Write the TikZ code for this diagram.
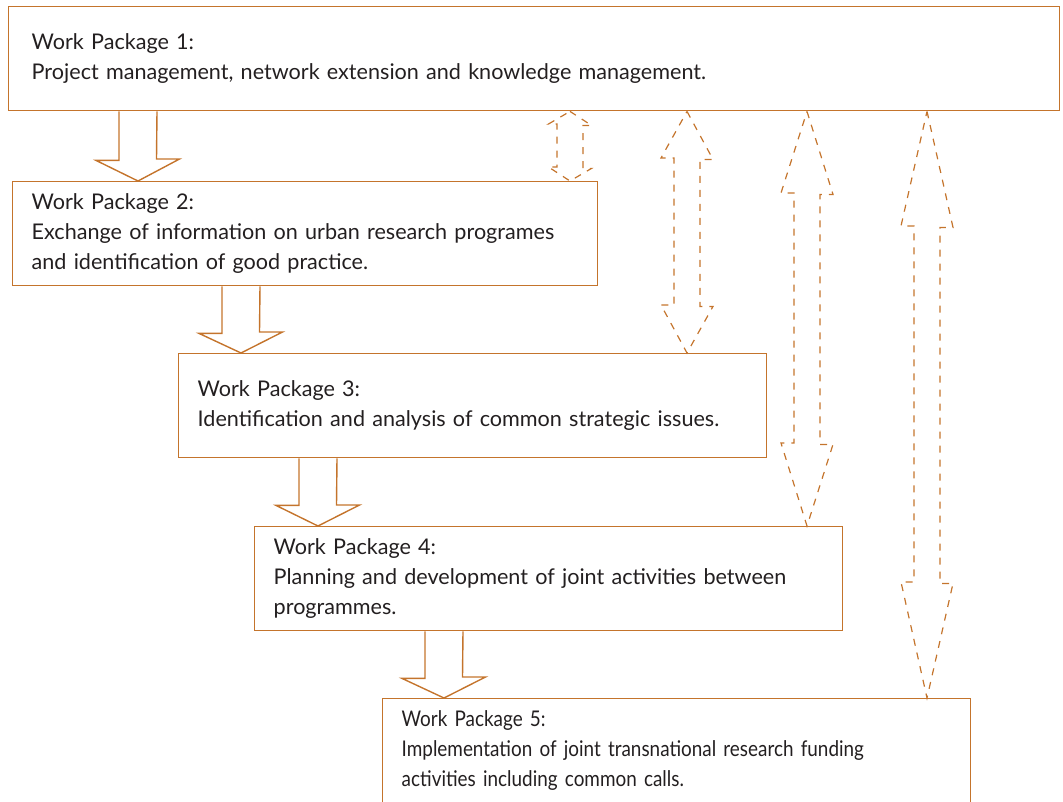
\documentclass[tikz,border=0pt]{standalone}
\usepackage{fontspec}
\setmainfont{Lato}
\newfontfamily\narrowlato[FakeStretch=0.875]{Lato}
\usetikzlibrary{calc}
\definecolor{wporange}{RGB}{196,116,44}
\definecolor{wptext}{RGB}{35,31,32}

\begin{document}
\begin{tikzpicture}[x=1pt,y=-1pt]

\tikzset{wpbox/.style = {draw=wporange, line width=1.4pt, anchor=north west, inner xsep=19pt, minimum height=104pt, align=left, text=wptext, font=\fontsize{21.6pt}{30pt}\selectfont}}
\tikzset{wparrow/.style = {draw=wporange, line width=1.4pt, line join=miter}}
\tikzset{linkarrow/.style = {draw=wporange, line width=1.2pt, dash pattern=on 7pt off 7pt}}

\useasboundingbox (0,0) rectangle (1063,801);

%boxes
\node[wpbox, inner xsep=23pt, text width=1005pt] (wp1) at (8,6) {Work Package 1:\\Project management, network extension and knowledge management.};
\node[wpbox, text width=547pt] (wp2) at (12,181) {Work Package 2:\\Exchange of information on urban research programes\\and identification of good practice.};
\node[wpbox, text width=550pt] (wp3) at (178,353) {Work Package 3:\\Identification and analysis of common strategic issues.};
\node[wpbox, text width=550pt] (wp4) at (254,526) {Work Package 4:\\Planning and development of joint activities between\\programmes.};
\node[wpbox, text width=550pt, font=\narrowlato\fontsize{21.6pt}{30pt}\selectfont] (wp5) at (382,698) {Work Package 5:\\Implementation of joint transnational research funding\\activities including common calls.};

%block arrows
\draw[wparrow] (119,0 |- wp1.south) -- ++(0,49) -- ++(-23,0) -- (138,0 |- wp2.north) -- ++(41.5,-22) -- ++(-23,0) -- (157,0 |- wp1.south);
\draw[wparrow] (222,0 |- wp2.south) -- ++(0,47) -- ++(-23,0) -- (241,0 |- wp3.north) -- ++(41.5,-21) -- ++(-23,0) -- (260,0 |- wp2.south);
\draw[wparrow] (299,0 |- wp3.south) -- ++(0,47) -- ++(-23,0) -- (318,0 |- wp4.north) -- ++(41.5,-21) -- ++(-23,0) -- (337,0 |- wp3.south);
\draw[wparrow] (425,0 |- wp4.south) -- ++(0,47) -- ++(-23,0) -- (444,0 |- wp5.north) -- ++(41.5,-21) -- ++(-23,0) -- (463,0 |- wp4.south);

%two way links
\draw[linkarrow] (570,0 |- wp1.south) -- ++(21.5,14) -- ++(-8.5,0) -- ++(0,43) -- ++(8.5,0) -- (570,0 |- wp2.north) -- ++(-21.5,-14) -- ++(8.5,0) -- ++(0,-43) -- ++(-8.5,0) -- cycle;
\draw[linkarrow] (687,0 |- wp1.south) -- ++(26,48) -- ++(-13,0) -- ++(0,147) -- ++(13,0) -- (687,0 |- wp3.north) -- ++(-26,-48) -- ++(13,0) -- ++(0,-147) -- ++(-13,0) -- cycle;
\draw[linkarrow] (807,0 |- wp1.south) -- ++(26,83) -- ++(-13,0) -- ++(0,250) -- ++(13,0) -- (807,0 |- wp4.north) -- ++(-26,-83) -- ++(13,0) -- ++(0,-250) -- ++(-13,0) -- cycle;
\draw[linkarrow] (927,0 |- wp1.south) -- ++(26,116) -- ++(-13,0) -- ++(0,356) -- ++(13,0) -- (927,0 |- wp5.north) -- ++(-26,-116) -- ++(13,0) -- ++(0,-356) -- ++(-13,0) -- cycle;

\end{tikzpicture}
\end{document}
